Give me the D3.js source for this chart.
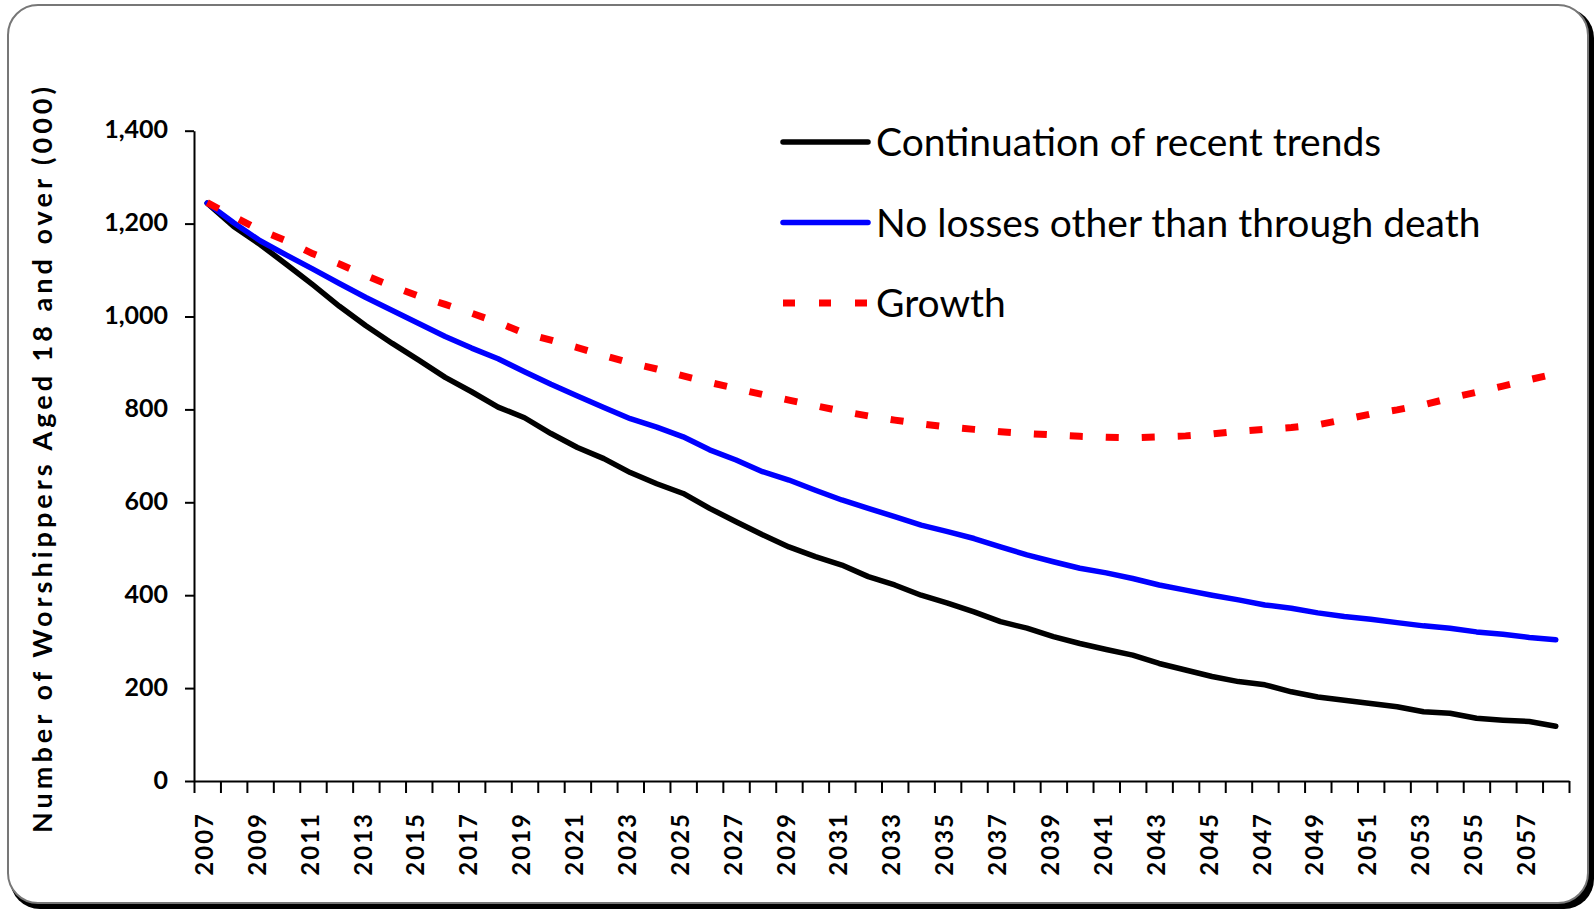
<!DOCTYPE html>
<html>
<head>
<meta charset="utf-8">
<script src="https://cdnjs.cloudflare.com/ajax/libs/d3/7.8.5/d3.min.js"></script>
<style>
    body { margin: 0; background: #fff; }
    svg text { font-family: Lato, "Open Sans", sans-serif; }
</style>
</head>
<body>
<svg id="chart" width="1594" height="909"></svg>
<script>
var years = [2007, 2008, 2009, 2010, 2011, 2012, 2013, 2014, 2015, 2016, 2017, 2018, 2019,
             2020, 2021, 2022, 2023, 2024, 2025, 2026, 2027, 2028, 2029, 2030, 2031, 2032,
             2033, 2034, 2035, 2036, 2037, 2038, 2039, 2040, 2041, 2042, 2043, 2044, 2045,
             2046, 2047, 2048, 2049, 2050, 2051, 2052, 2053, 2054, 2055, 2056, 2057, 2058];

var continuation = [1244, 1194, 1155, 1112, 1068, 1022, 980, 942, 906, 869, 838, 805, 782,
                    748, 718, 694, 664, 640, 619, 587, 558, 530, 504, 483, 465, 440,
                    422, 400, 383, 364, 343, 329, 311, 296, 283, 271, 253, 239, 225,
                    214, 207, 192, 181, 174, 167, 160, 149, 146, 135, 131, 128, 118];

var noLosses = [1244, 1202, 1163, 1132, 1102, 1071, 1041, 1013, 985, 957, 932, 909, 881,
                854, 829, 804, 780, 762, 741, 713, 691, 666, 648, 626, 605, 587,
                569, 551, 537, 522, 504, 487, 472, 458, 448, 436, 422, 411, 400,
                390, 379, 372, 362, 354, 348, 341, 334, 329, 321, 316, 309, 304];

var growth = [1245, 1215, 1186, 1163, 1135, 1113, 1088, 1065, 1044, 1026, 1007, 987, 964,
              949, 933, 916, 900, 887, 872, 858, 845, 832, 820, 808, 796, 786,
              777, 769, 762, 757, 752, 748, 745, 742, 740, 739, 741, 743, 747,
              753, 757, 761, 767, 778, 790, 799, 810, 824, 837, 850, 864, 877];

var yTicks = [0, 200, 400, 600, 800, 1000, 1200, 1400];
var xLabels = [2007, 2009, 2011, 2013, 2015, 2017, 2019, 2021, 2023, 2025, 2027, 2029, 2031,
               2033, 2035, 2037, 2039, 2041, 2043, 2045, 2047, 2049, 2051, 2053, 2055, 2057];
var seriesNames = ["Continuation of recent trends", "No losses other than through death", "Growth"];

function drawChart() {
    var svg = d3.select("#chart");

    // frame with shadow on right / bottom
    svg.append("rect")
       .attr("x", 10).attr("y", 8)
       .attr("width", 1584).attr("height", 901)
       .attr("rx", 30).attr("ry", 30)
       .style("fill", "#000");
    svg.append("rect")
       .attr("x", 8).attr("y", 5)
       .attr("width", 1580).attr("height", 898)
       .attr("rx", 30).attr("ry", 30)
       .style("fill", "#fff")
       .style("stroke", "#777")
       .style("stroke-width", 2);

    var x = d3.scaleLinear().domain([years[0] - 0.5, years[years.length - 1] + 0.5]).range([194, 1569]),
        y = d3.scaleLinear().domain([0, 1400]).range([781, 130.7]);

    // y axis
    var yAxis = svg.append("g")
       .attr("transform", "translate(" + 194 + ",0)")
       .call(d3.axisLeft(y).tickValues(yTicks).tickFormat(d3.format(","))
               .tickSizeInner(9).tickSizeOuter(0).tickPadding(17));
    yAxis.selectAll("path, line").style("stroke", "#000").style("stroke-width", 2);
    yAxis.selectAll("text")
         .attr("font-family", "Lato, sans-serif")
         .attr("font-size", "25px")
         .attr("font-weight", "bold")
         .attr("dy", "0.28em")
         .style("fill", "#000");

    // x axis: ticks on category boundaries
    var bounds = years.map(function(d) { return d - 0.5; }).concat([years[years.length - 1] + 0.5]);
    var xAxis = svg.append("g")
       .attr("transform", "translate(0," + 781 + ")")
       .call(d3.axisBottom(x).tickValues(bounds).tickFormat("")
               .tickSizeInner(12).tickSizeOuter(0));
    xAxis.selectAll("path, line").style("stroke", "#000").style("stroke-width", 2);

    svg.append("g").selectAll(".xlab")
       .data(xLabels)
       .enter().append("text")
       .attr("class", "xlab")
       .attr("transform", function(d) { return "translate(" + (x(d) - 3) + ",812) rotate(-90)"; })
       .attr("text-anchor", "end")
       .attr("dy", "0.36em")
       .attr("font-size", "24px")
       .attr("font-weight", "bold")
       .attr("letter-spacing", "2px")
       .style("fill", "#000")
       .text(function(d) { return d; });

    // y axis title
    svg.append("text")
       .attr("transform", "translate(42,460) rotate(-90)")
       .attr("text-anchor", "middle")
       .attr("dy", "0.36em")
       .attr("font-size", "27px")
       .attr("font-weight", "bold")
       .attr("textLength", 746)
       .attr("lengthAdjust", "spacing")
       .style("fill", "#000")
       .text("Number of Worshippers Aged 18 and over (000)");

    var line = d3.line()
        .x(function(d, i) { return x(years[i]); })
        .y(function(d) { return y(d); });

    var series = [
        { name: seriesNames[0], values: continuation, color: "#000", dash: null, width: 5.5 },
        { name: seriesNames[1], values: noLosses, color: "#0000ff", dash: null, width: 5.5 },
        { name: seriesNames[2], values: growth, color: "#ff0000", dash: "13,23", width: 7 }
    ];

    series.forEach(function(s) {
        svg.append("path")
           .datum(s.values)
           .attr("d", line)
           .style("fill", "none")
           .style("stroke", s.color)
           .style("stroke-width", s.width)
           .style("stroke-linejoin", "round")
           .style("stroke-linecap", s.dash ? "butt" : "round")
           .style("stroke-dasharray", s.dash);
    });

    // legend
    var legend = svg.append("g");
    series.forEach(function(s, i) {
        var ly = 142 + i * 80.5;
        legend.append("line")
              .attr("x1", 783).attr("x2", 868)
              .attr("y1", ly).attr("y2", ly)
              .style("stroke", s.color)
              .style("stroke-width", s.dash ? 7 : 5.5)
              .style("stroke-linecap", s.dash ? "butt" : "round")
              .style("stroke-dasharray", s.dash ? "12,24" : null);
        legend.append("text")
              .attr("x", 876)
              .attr("y", ly + 14)
              .attr("font-size", "39px")
              .style("fill", "#000")
              .text(s.name);
    });
}

drawChart();
</script>
</body>
</html>
